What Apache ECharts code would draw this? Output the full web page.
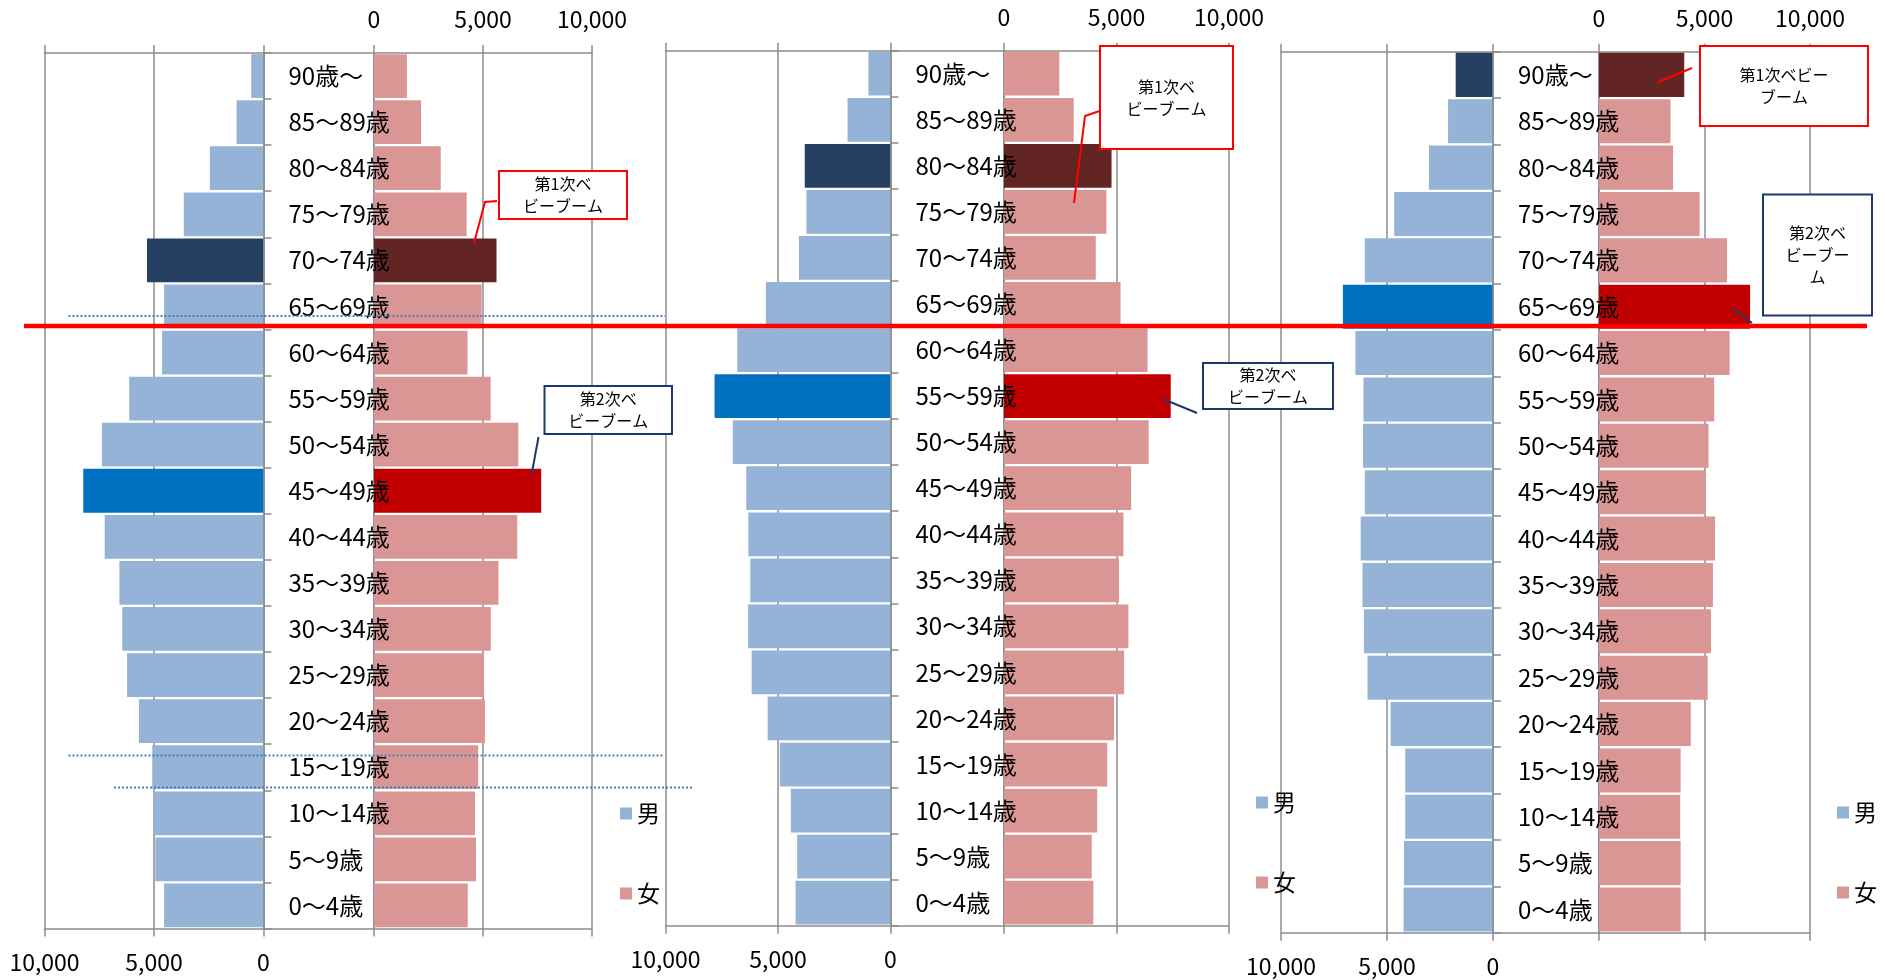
<!DOCTYPE html>
<html>
<head>
<meta charset="utf-8">
<script src="https://cdn.jsdelivr.net/npm/echarts@6/dist/echarts.min.js"></script>
<style>
  html, body { margin: 0; background: #fff; }
  #chart { width: 1885px; height: 980px; }
</style>
</head>
<body>
<div id="chart"></div>
<script>
// 年齢階級（上から）
const ageGroups = ['90歳～', '85～89歳', '80～84歳', '75～79歳', '70～74歳', '65～69歳', '60～64歳',
  '55～59歳', '50～54歳', '45～49歳', '40～44歳', '35～39歳', '30～34歳', '25～29歳',
  '20～24歳', '15～19歳', '10～14歳', '5～9歳', '0～4歳']

const male1 = [560, 1230, 2450, 3640, 5320, 4540, 4630, 6130, 7380, 8230, 7250, 6580, 6450, 6230, 5690, 5080, 5020, 4940, 4540]
const female1 = [1510, 2160, 3060, 4250, 5620, 4940, 4290, 5350, 6620, 7670, 6570, 5710, 5360, 5050, 5090, 4780, 4630, 4680, 4300]

const male2 = [980, 1910, 3810, 3740, 4070, 5540, 6810, 7820, 7010, 6410, 6320, 6230, 6330, 6170, 5460, 4920, 4430, 4150, 4220]
const female2 = [2460, 3100, 4780, 4550, 4080, 5180, 6380, 7410, 6430, 5650, 5310, 5110, 5530, 5340, 4890, 4590, 4140, 3900, 3970]

const male3 = [1760, 2120, 3020, 4660, 6050, 7080, 6490, 6110, 6130, 6050, 6240, 6160, 6090, 5920, 4830, 4140, 4140, 4200, 4220]
const female3 = [4040, 3390, 3510, 4770, 6070, 7160, 6190, 5460, 5190, 5060, 5500, 5400, 5310, 5150, 4350, 3870, 3850, 3870, 3870]

// 第1次・第2次ベビーブームの行
const firstBoomRow = [4, 2, 0]
const secondBoomRow = [9, 7, 5]

const FONT = '"Noto Sans CJK JP", "Noto Sans", sans-serif'
const GRID_COLOR = '#8c8c8c'
const MALE = '#95b3d7'
const FEMALE = '#d99694'
const MALE_1ST = '#254061'
const FEMALE_1ST = '#632523'
const MALE_2ND = '#0070c0'
const FEMALE_2ND = '#c00000'
const RED = '#ff0000'
const NAVY = '#1b3a6b'

const panels = [
  { male: male1, female: female1, left: 44.5, maleW: 219, femaleL: 374, femaleW: 218, top: 53, height: 875.5, legendLeft: 620, legendTop: 802 },
  { male: male2, female: female2, left: 665.5, maleW: 225, femaleL: 1004, femaleW: 225, top: 50.7, height: 875, legendLeft: 1256, legendTop: 791 },
  { male: male3, female: female3, left: 1281, maleW: 212, femaleL: 1599, femaleW: 211, top: 51.7, height: 881, legendLeft: 1837, legendTop: 801 }
]

const notes = [
  { x: 499, y: 171, w: 128, h: 48, color: RED, text: '第1次ベ\nビーブーム', line: [[497, 201], [485, 202], [474, 243]] },
  { x: 544.5, y: 386, w: 127.5, h: 48, color: NAVY, text: '第2次ベ\nビーブーム', line: [[538.5, 437], [531.5, 475]] },
  { x: 1100, y: 46, w: 133, h: 103, color: RED, text: '第1次ベ\nビーブーム', line: [[1099.5, 111], [1085, 116], [1074, 203]] },
  { x: 1203, y: 363, w: 130, h: 46, color: NAVY, text: '第2次ベ\nビーブーム', line: [[1197, 413], [1163, 399]] },
  { x: 1700, y: 46, w: 168, h: 80, color: RED, text: '第1次ベビー\nブーム', line: [[1692, 68], [1658, 82]] },
  { x: 1763, y: 194.5, w: 109, h: 121, color: NAVY, text: '第2次ベ\nビーブー\nム', line: [[1752, 323], [1732, 308]] }
]

const fmt = v => v.toLocaleString('en-US')
const lineStyle = { color: GRID_COLOR, width: 1.5 }

const grid = []
const xAxis = []
const yAxis = []
const series = []
const legend = []

function styled (vals, k1, k2, c1, c2) {
  return vals.map((v, k) => {
    if (k === k1) return { value: v, itemStyle: { color: c1 } }
    if (k === k2) return { value: v, itemStyle: { color: c2 } }
    return v
  })
}

panels.forEach((p, i) => {
  const g = i * 3
  const right = p.femaleL + p.femaleW
  grid.push({ left: p.left, top: p.top, width: right - p.left, height: p.height })
  grid.push({ left: p.left, top: p.top, width: p.maleW, height: p.height })
  grid.push({ left: p.femaleL, top: p.top, width: p.femaleW, height: p.height })

  const frame = pos => ({
    gridIndex: g, type: 'value', position: pos, min: 0, max: 1,
    axisLine: { show: true, onZero: false, lineStyle },
    axisTick: { show: false }, axisLabel: { show: false }, splitLine: { show: false }
  })
  const scale = (gi, pos, inverse, labels) => ({
    gridIndex: gi, type: 'value', position: pos, inverse: inverse,
    min: 0, max: 10000, interval: 5000,
    axisLine: { show: false, onZero: false },
    axisTick: { show: true, length: 8, lineStyle },
    axisLabel: { show: labels, margin: 22, fontSize: 23, color: '#000', fontFamily: FONT, formatter: fmt },
    splitLine: { show: labels, lineStyle }
  })
  xAxis.push(frame('top'), frame('bottom'),
    scale(g + 1, 'bottom', true, true), scale(g + 1, 'top', true, false),
    scale(g + 2, 'top', false, true), scale(g + 2, 'bottom', false, false))

  yAxis.push({ gridIndex: g, type: 'value', show: false })
  yAxis.push({
    gridIndex: g + 1, type: 'category', data: ageGroups, inverse: true, position: 'right', z: 5,
    axisLine: { show: true, onZero: false, lineStyle },
    axisTick: { show: true, length: 8, lineStyle },
    axisLabel: { interval: 0, margin: 25, fontSize: 24, color: '#000', fontFamily: FONT }
  })
  yAxis.push({
    gridIndex: g + 2, type: 'category', data: ageGroups, inverse: true, position: 'left',
    axisLine: { show: true, onZero: false, lineStyle },
    axisTick: { show: false }, axisLabel: { show: false }
  })

  series.push({
    name: '男', type: 'bar', xAxisIndex: i * 6 + 2, yAxisIndex: g + 1,
    barCategoryGap: '5%', itemStyle: { color: MALE },
    data: styled(p.male, firstBoomRow[i], secondBoomRow[i], MALE_1ST, MALE_2ND)
  })
  series.push({
    name: '女', type: 'bar', xAxisIndex: i * 6 + 4, yAxisIndex: g + 2,
    barCategoryGap: '5%', itemStyle: { color: FEMALE },
    data: styled(p.female, firstBoomRow[i], secondBoomRow[i], FEMALE_1ST, FEMALE_2ND)
  })

  legend.push({
    data: ['男', '女'], orient: 'vertical', left: p.legendLeft, top: p.legendTop,
    padding: 0, itemGap: 57, itemWidth: 12, itemHeight: 12, icon: 'rect', selectedMode: false,
    textStyle: { fontSize: 23, color: '#000', fontFamily: FONT }
  })
})

const graphic = []
notes.forEach(n => {
  graphic.push({ type: 'polyline', z: 100, shape: { points: n.line }, style: { stroke: n.color, lineWidth: 2, fill: null } })
  graphic.push({ type: 'rect', z: 101, shape: { x: n.x, y: n.y, width: n.w, height: n.h }, style: { fill: '#fff', stroke: n.color, lineWidth: 2 } })
  graphic.push({
    type: 'text', z: 102, x: n.x + n.w / 2, y: n.y + n.h / 2,
    style: { text: n.text, align: 'center', verticalAlign: 'middle', fontSize: 16, lineHeight: 22, fontFamily: FONT, fill: '#000' }
  })
})
// 点線（青）
const dotted = [[68.5, 316, 665], [68.5, 755.5, 664], [114, 787.5, 693]]
dotted.forEach(d => {
  graphic.push({ type: 'line', z: 105, shape: { x1: d[0], y1: d[1], x2: d[2], y2: d[1] }, style: { stroke: '#4a7ebb', lineWidth: 2, lineDash: [2, 2] } })
})
// 赤線
graphic.push({ type: 'line', z: 110, shape: { x1: 24, y1: 326, x2: 1867, y2: 326 }, style: { stroke: RED, lineWidth: 4.5 } })

const chart = echarts.init(document.getElementById('chart'))
chart.setOption({
  animation: false,
  grid: grid,
  xAxis: xAxis,
  yAxis: yAxis,
  legend: legend,
  series: series,
  graphic: { elements: graphic }
})
</script>
</body>
</html>
